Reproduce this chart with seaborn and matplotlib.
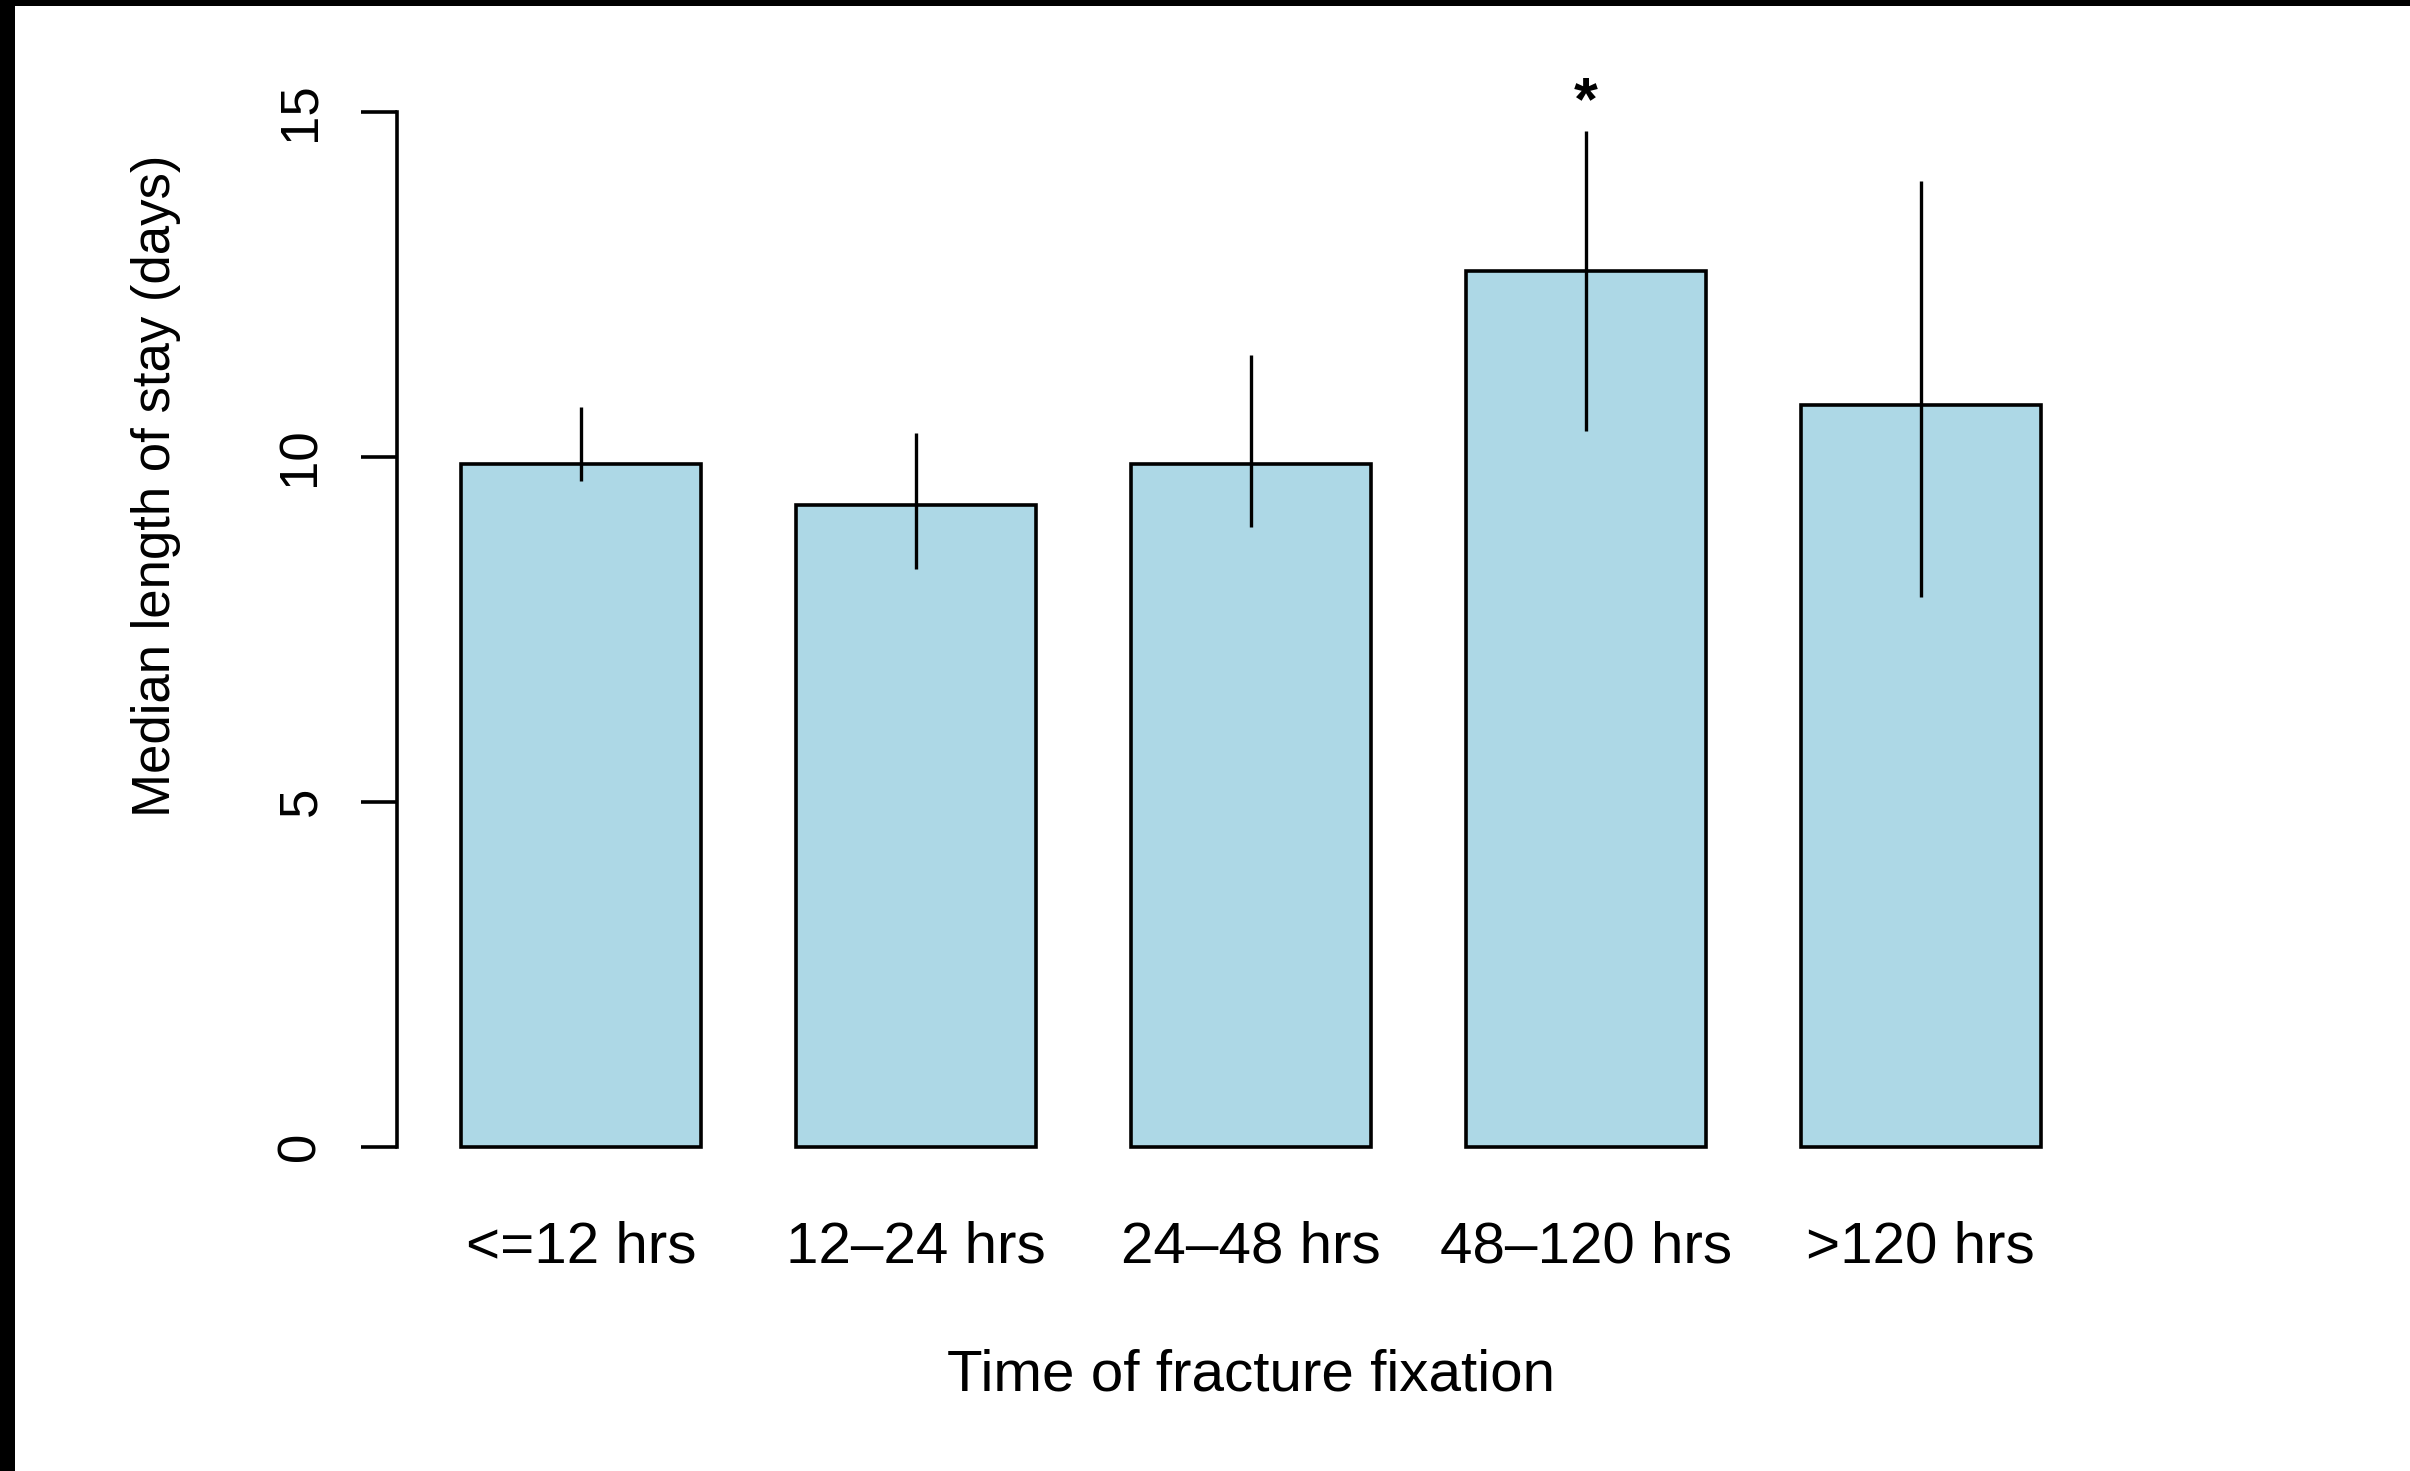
import matplotlib
matplotlib.use("Agg")
import matplotlib.pyplot as plt
from matplotlib.patches import Rectangle
import seaborn as sns
import pandas as pd

# ---- data ----
categories = ["<=12 hrs", "12\u201324 hrs", "24\u201348 hrs", "48\u2013120 hrs", ">120 hrs"]
medians = [9.9, 9.3, 9.9, 12.7, 10.75]
lower = [9.65, 8.38, 8.98, 10.38, 7.97]
upper = [10.72, 10.35, 11.48, 14.73, 14.0]
significance = ["", "", "", "*", ""]
y_ticks = [0, 5, 10, 15]
x_title = "Time of fracture fixation"
y_title = "Median length of stay (days)"

df = pd.DataFrame({"group": categories, "median": medians,
                   "lower": lower, "upper": upper, "sig": significance})

sns.set_style("white")
plt.rcParams["font.family"] = ["Liberation Sans", "DejaVu Sans"]
plt.rcParams["text.color"] = "black"
plt.rcParams["axes.labelcolor"] = "black"
plt.rcParams["xtick.color"] = "black"
plt.rcParams["ytick.color"] = "black"

W, H = 2410, 1471
fig = plt.figure(figsize=(W / 100, H / 100), dpi=100)
fig.patch.set_facecolor("white")

left_px, right_px = 396.6, 2105.0
top_px, bottom_px = 50.0, 1200.0
ax = fig.add_axes([left_px / W, 1 - bottom_px / H,
                   (right_px - left_px) / W, (bottom_px - top_px) / H])
ax.set_facecolor("white")

sns.barplot(data=df, x="group", y="median", color="#ADD8E6", saturation=1,
            edgecolor="black", linewidth=2.6, width=0.716, errorbar=None, ax=ax)

pos = list(range(len(df)))
ax.vlines(pos, df["lower"], df["upper"], color="black", linewidth=2.4, zorder=5)
for p, (u, s) in enumerate(zip(df["upper"], df["sig"])):
    if s:
        ax.text(p, u + 0.17, s, ha="center", va="baseline", fontsize=44,
                fontweight="bold", color="black")

ax.set_xlim(-0.55, 4.55)
ax.set_ylim(-0.774, 15.90)

for side in ["top", "right", "bottom"]:
    ax.spines[side].set_visible(False)
ax.spines["left"].set_bounds(0, 15)
ax.spines["left"].set_linewidth(2.6)
ax.spines["left"].set_color("black")

ax.set_yticks(y_ticks)
ax.set_yticklabels([str(t) for t in y_ticks], rotation=90, va="center",
                   fontsize=38, color="black")
ax.tick_params(axis="y", direction="out", length=25.9, width=2.6, color="black",
               pad=25.0, left=True, labelcolor="black")
ax.tick_params(axis="x", length=0, pad=14.8, labelsize=42, labelcolor="black")

ax.set_xlabel(x_title, fontsize=42, color="black")
ax.set_ylabel(y_title, fontsize=38, color="black")
ax.xaxis.set_label_coords(0.5, -0.129)
ax.yaxis.set_label_coords(-0.1262, 0.621)

# black frame strips present in the reference image
fig.patches.append(Rectangle((0, 1 - 6 / H), 1, 6 / H, transform=fig.transFigure,
                             facecolor="black", edgecolor="none", zorder=10))
fig.patches.append(Rectangle((0, 0), 15 / W, 1, transform=fig.transFigure,
                             facecolor="black", edgecolor="none", zorder=10))

fig.savefig("out.png", dpi=100, facecolor="white")
